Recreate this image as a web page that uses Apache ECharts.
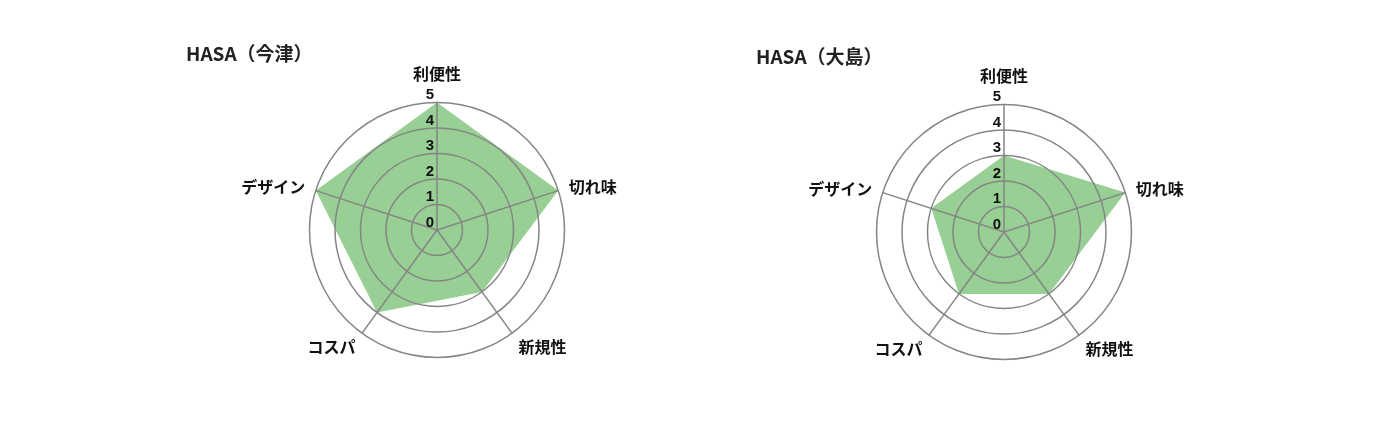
<!DOCTYPE html>
<html>
<head>
<meta charset="utf-8">
<script src="https://cdn.jsdelivr.net/npm/echarts@6/dist/echarts.min.js"></script>
<style>
  html, body { margin: 0; padding: 0; background: #fff; }
  #chart { width: 1400px; height: 421px; }
</style>
</head>
<body>
<div id="chart"></div>
<script>
// counter-clockwise from the top, as the radar draws them
const indicators = ['利便性', 'デザイン', 'コスパ', '新規性', '切れ味'];
const tickLabels = ['0', '1', '2', '3', '4', '5'];
const titles = ['HASA（今津）', 'HASA（大島）'];
const imazuValues = [5, 5, 4, 3, 5];
const oshimaValues = [3, 3, 3, 3, 5];

const gridColor = '#858585';
const fillColor = '#98cf95';
const jpFont = '"Noto Sans CJK JP", "Noto Sans", sans-serif';

function makeIndicators() {
    return indicators.map(function (name, i) {
        let ind = { name: name, min: 0, max: 5 };
        if (i === 0) {
            ind.axisLabel = {
                show: true,
                color: '#111',
                fontSize: 15,
                fontWeight: 'bold',
                fontFamily: 'Liberation Sans, Arial, sans-serif',
                margin: 3,
                align: 'right',
                verticalAlign: 'bottom',
                formatter: function (v) { return tickLabels[Math.round(v)]; }
            };
        }
        return ind;
    });
}

function nameStyle(pad) {
    return { fontSize: 16, fontWeight: 'bold', fontFamily: jpFont, color: '#111', padding: pad };
}

function makeRadar(center) {
    return {
        z: 5,
        center: center,
        radius: 127.5,
        shape: 'circle',
        splitNumber: 5,
        startAngle: 90,
        indicator: makeIndicators(),
        axisName: {
            color: '#111',
            fontSize: 16,
            fontWeight: 'bold',
            fontFamily: jpFont,
            formatter: function (name) {
                if (name === '利便性') return '{top|' + name + '}';
                if (name === 'コスパ' || name === '新規性') return '{bot|' + name + '}';
                return name;
            },
            rich: {
                top: nameStyle([0, 0, 10, 0]),
                bot: nameStyle([10, 0, 0, 0])
            }
        },
        nameGap: 11,
        axisLine: { lineStyle: { color: gridColor, width: 1.5 } },
        splitLine: { lineStyle: { color: gridColor, width: 1.5 } },
        splitArea: { show: false },
        axisTick: { show: false },
        axisLabel: { show: false }
    };
}

const chart = echarts.init(document.getElementById('chart'));
chart.setOption({
    animation: false,
    title: [
        { text: titles[0], left: 181, top: 39, textStyle: { fontSize: 19, fontWeight: 'bold', color: '#222', fontFamily: jpFont } },
        { text: titles[1], left: 751, top: 42, textStyle: { fontSize: 19, fontWeight: 'bold', color: '#222', fontFamily: jpFont } }
    ],
    radar: [makeRadar([437, 230]), makeRadar([1004, 232])],
    series: [
        {
            type: 'radar',
            radarIndex: 0,
            symbol: 'none',
            lineStyle: { width: 0 },
            areaStyle: { color: fillColor, opacity: 1 },
            z: 1,
            data: [{ value: imazuValues, name: titles[0] }]
        },
        {
            type: 'radar',
            radarIndex: 1,
            symbol: 'none',
            lineStyle: { width: 0 },
            areaStyle: { color: fillColor, opacity: 1 },
            z: 1,
            data: [{ value: oshimaValues, name: titles[1] }]
        }
    ]
});
</script>
</body>
</html>
